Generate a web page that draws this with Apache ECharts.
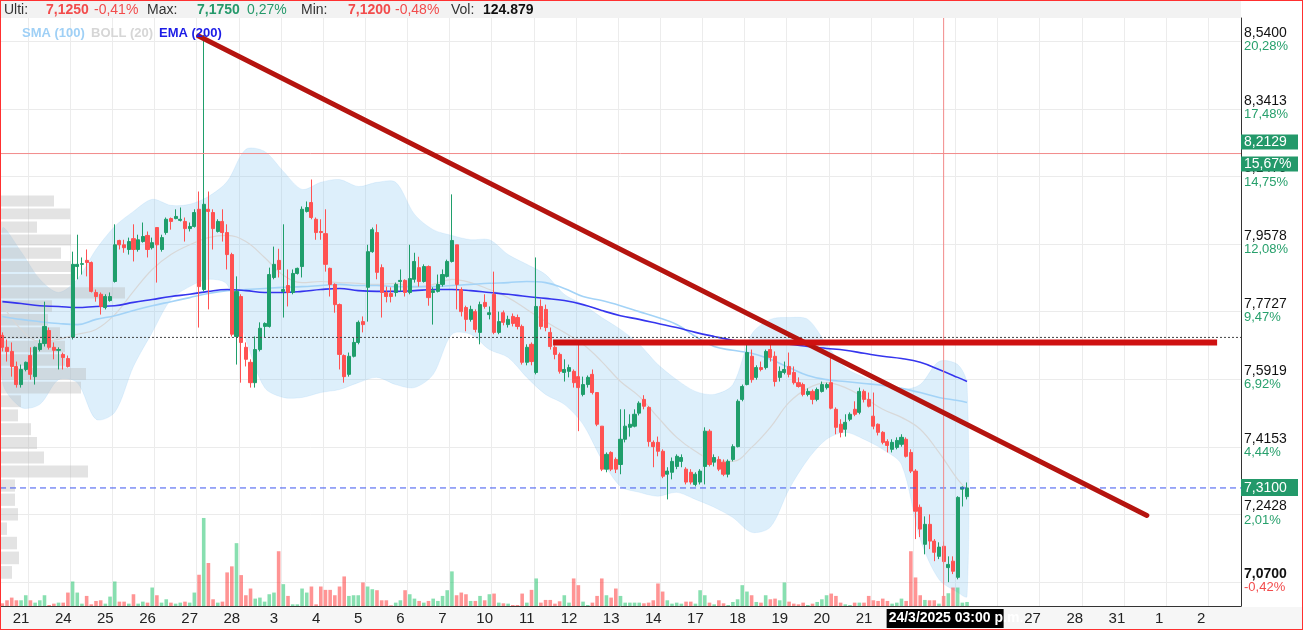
<!DOCTYPE html>
<html>
<head>
<meta charset="utf-8">
<script src="https://cdn.jsdelivr.net/npm/echarts@6/dist/echarts.min.js"></script>
<style>
html,body{margin:0;padding:0;background:#fff;}
#main{position:absolute;left:0;top:0;width:1303px;height:630px;}
#frame{position:absolute;left:0;top:0;width:1303px;height:630px;box-sizing:border-box;border:1px solid #ff3030;pointer-events:none;}
</style>
</head>
<body>
<div id="main"></div>
<div id="frame"></div>
<script>
// ---------------- DATA ----------------
// trading-day labels (one label per day, 9 hourly candles per day)
const dayLabels = ['21','24','25','26','27','28','3','4','5','6','7','10','11','12','13','14','17','18','19','20','21','24','25','26','27','28','31','1','2'];
const SLOT_COUNT = 265, CANDLES_PER_DAY = 9, FIRST_LABEL_SLOT = 4, FIRST_DAY_START = 6;

const opens = [7.709,7.677,7.666,7.626,7.578,7.618,7.655,7.599,7.671,7.687,7.722,7.677,7.669,7.658,7.647,7.704,7.896,7.902,7.913,7.907,7.825,7.820,7.784,7.803,7.855,7.968,7.956,7.943,7.973,7.943,7.965,7.982,7.948,8.004,7.943,7.990,8.029,8.029,8.024,8.021,8.001,8.007,8.055,7.833,8.055,8.046,7.993,8.021,7.990,7.929,7.706,7.814,7.677,7.637,7.583,7.671,7.733,7.733,7.866,7.913,7.828,7.844,7.825,7.877,7.896,8.049,8.074,8.027,7.993,7.987,7.891,7.847,7.792,7.655,7.605,7.653,7.690,7.746,7.839,7.937,7.990,7.893,7.825,7.822,7.825,7.855,7.858,7.825,7.861,7.893,7.855,7.896,7.825,7.828,7.847,7.869,7.910,7.956,7.833,7.784,7.752,7.773,7.717,7.798,7.765,7.820,7.717,7.770,7.738,7.760,7.757,7.733,7.637,7.685,7.610,7.787,7.779,7.717,7.677,7.658,7.610,7.613,7.613,7.599,7.552,7.578,7.605,7.557,7.469,7.358,7.401,7.383,7.370,7.435,7.466,7.469,7.503,7.539,7.518,7.427,7.427,7.404,7.345,7.350,7.365,7.378,7.358,7.350,7.319,7.325,7.365,7.456,7.376,7.383,7.376,7.345,7.383,7.416,7.539,7.578,7.653,7.597,7.623,7.623,7.671,7.653,7.597,7.610,7.626,7.610,7.583,7.578,7.552,7.560,7.539,7.560,7.570,7.583,7.513,7.474,7.461,7.487,7.513,7.505,7.560,7.539,7.495,7.474,7.453,7.429,7.409,7.414,7.422,7.435,7.401,7.353,7.261,7.168,7.218,7.176,7.138,7.163,7.110,7.126,7.086,7.307,7.288];
const highs = [7.717,7.698,7.690,7.639,7.631,7.639,7.677,7.679,7.698,7.800,7.730,7.690,7.677,7.663,7.655,7.937,7.984,7.921,7.943,7.910,7.833,7.825,7.820,7.825,8.013,7.970,7.970,7.976,8.013,7.984,8.018,7.993,7.976,8.004,7.984,8.032,8.032,8.055,8.060,8.032,8.018,8.055,8.105,8.559,8.105,8.055,8.027,8.055,8.013,7.934,7.869,7.820,7.690,7.645,7.706,7.744,7.744,7.893,7.951,7.945,8.013,7.888,7.888,7.893,8.063,8.077,8.139,8.032,8.027,8.055,7.893,7.850,7.795,7.658,7.663,7.704,7.749,7.760,7.956,8.004,8.013,7.902,7.841,7.839,7.852,7.888,7.861,7.956,7.934,7.923,7.902,7.899,7.839,7.874,7.888,7.915,8.097,7.956,7.839,7.789,7.789,7.779,7.800,7.820,7.787,7.882,7.773,7.776,7.762,7.768,7.765,7.738,7.685,7.690,7.921,7.806,7.792,7.730,7.682,7.663,7.645,7.631,7.618,7.685,7.599,7.602,7.618,7.557,7.469,7.401,7.404,7.388,7.513,7.513,7.500,7.513,7.534,7.550,7.521,7.432,7.442,7.409,7.363,7.388,7.396,7.396,7.363,7.358,7.350,7.358,7.466,7.461,7.396,7.391,7.383,7.383,7.422,7.539,7.578,7.685,7.671,7.629,7.639,7.671,7.690,7.666,7.626,7.639,7.663,7.626,7.597,7.583,7.568,7.565,7.570,7.586,7.583,7.650,7.518,7.487,7.500,7.505,7.534,7.570,7.565,7.557,7.557,7.476,7.456,7.435,7.435,7.440,7.448,7.440,7.409,7.358,7.268,7.238,7.243,7.181,7.173,7.175,7.138,7.138,7.289,7.314,7.324];
const lows = [7.666,7.639,7.599,7.570,7.570,7.613,7.591,7.578,7.666,7.679,7.671,7.645,7.618,7.618,7.623,7.698,7.861,7.874,7.869,7.825,7.800,7.765,7.779,7.800,7.852,7.943,7.934,7.929,7.910,7.937,7.962,7.921,7.943,7.852,7.937,7.984,7.998,8.027,8.021,7.965,7.993,8.004,7.730,7.828,7.779,7.943,7.990,7.965,7.888,7.706,7.631,7.583,7.626,7.570,7.570,7.666,7.704,7.730,7.861,7.866,7.757,7.787,7.820,7.874,7.866,8.046,8.027,7.970,7.970,7.882,7.814,7.770,7.618,7.583,7.599,7.650,7.685,7.717,7.746,7.934,7.861,7.757,7.798,7.798,7.814,7.828,7.814,7.820,7.852,7.841,7.852,7.789,7.738,7.825,7.841,7.866,7.907,7.779,7.760,7.720,7.746,7.717,7.685,7.781,7.752,7.712,7.712,7.736,7.730,7.733,7.725,7.631,7.629,7.629,7.605,7.725,7.720,7.671,7.645,7.607,7.586,7.597,7.570,7.456,7.547,7.570,7.552,7.469,7.353,7.350,7.353,7.348,7.345,7.427,7.442,7.466,7.497,7.513,7.416,7.363,7.391,7.335,7.281,7.332,7.358,7.363,7.319,7.319,7.314,7.319,7.319,7.365,7.365,7.353,7.340,7.337,7.378,7.414,7.534,7.576,7.583,7.591,7.613,7.618,7.639,7.573,7.586,7.605,7.597,7.578,7.570,7.547,7.547,7.526,7.534,7.557,7.565,7.513,7.448,7.440,7.442,7.482,7.495,7.500,7.531,7.518,7.461,7.445,7.422,7.401,7.401,7.409,7.416,7.388,7.348,7.181,7.186,7.143,7.156,7.126,7.131,7.120,7.074,7.094,7.081,7.263,7.281];
const closes = [7.677,7.666,7.626,7.578,7.618,7.637,7.605,7.677,7.687,7.733,7.677,7.669,7.671,7.650,7.626,7.902,7.902,7.904,7.907,7.828,7.814,7.787,7.814,7.814,7.956,7.956,7.948,7.965,7.943,7.970,7.979,7.943,7.962,7.956,7.976,8.027,8.021,8.035,8.027,8.001,8.007,8.046,7.841,8.069,8.049,8.001,8.021,7.990,7.929,7.712,7.828,7.690,7.645,7.583,7.671,7.728,7.741,7.874,7.902,7.888,7.833,7.825,7.877,7.891,8.055,8.060,8.032,7.990,7.990,7.902,7.847,7.792,7.658,7.599,7.653,7.690,7.744,7.738,7.937,7.998,7.880,7.825,7.814,7.814,7.847,7.858,7.825,7.863,7.910,7.855,7.896,7.811,7.830,7.847,7.874,7.910,7.968,7.847,7.773,7.752,7.779,7.725,7.792,7.787,7.770,7.717,7.746,7.744,7.752,7.741,7.733,7.637,7.677,7.639,7.787,7.733,7.730,7.679,7.658,7.613,7.618,7.623,7.583,7.570,7.578,7.597,7.557,7.474,7.358,7.396,7.358,7.358,7.435,7.469,7.474,7.500,7.529,7.521,7.429,7.416,7.404,7.340,7.353,7.378,7.391,7.388,7.325,7.325,7.345,7.353,7.456,7.370,7.388,7.358,7.345,7.378,7.416,7.534,7.573,7.663,7.591,7.623,7.618,7.666,7.650,7.586,7.613,7.618,7.605,7.583,7.573,7.552,7.560,7.539,7.565,7.578,7.578,7.516,7.466,7.453,7.479,7.500,7.500,7.560,7.539,7.521,7.469,7.453,7.427,7.419,7.427,7.432,7.440,7.391,7.353,7.251,7.206,7.218,7.176,7.148,7.161,7.125,7.118,7.101,7.286,7.312,7.310];
// relative traded volume per candle
const volumes = [8,17,25,17,17,32,17,10,17,32,3,7,10,10,40,73,40,7,30,5,15,17,7,28,73,13,13,7,35,7,13,10,55,32,10,20,10,7,10,13,10,40,93,262,128,20,10,13,100,118,187,92,32,52,22,25,13,35,40,163,65,30,5,5,52,40,58,5,58,48,48,32,58,88,30,32,32,70,58,50,47,17,17,2,10,17,47,35,22,15,10,15,22,15,30,47,103,32,40,35,15,15,30,17,35,37,10,8,7,3,3,37,10,48,82,10,18,18,7,14,32,10,82,62,13,3,10,30,82,32,25,52,30,10,10,10,10,8,10,17,67,43,17,7,10,7,13,13,7,47,32,10,5,17,8,3,12,20,62,43,32,12,10,32,20,22,17,70,13,7,5,10,3,7,12,20,32,37,30,10,5,3,10,10,10,30,17,15,22,15,7,10,22,15,163,85,32,18,17,17,7,30,38,55,55,10,12];

// indicator samples (candle slot -> price)
const indSlots = [0,4,8,12,16,20,24,28,32,36,40,44,48,52,56,60,64,68,72,76,80,84,88,92,96,100,104,108,112,116,120,124,128,132,136,140,144,148,152,156,160,164,168,172,176,180,184,188,192,196,200,204,206];
const bollUpper = [8.001,7.937,7.861,7.825,7.861,7.943,8.007,8.049,8.083,8.066,8.069,8.091,8.133,8.225,8.219,8.162,8.111,8.131,8.139,8.119,8.131,8.131,8.041,7.998,7.982,7.970,7.970,7.929,7.902,7.874,7.820,7.792,7.757,7.725,7.685,7.631,7.591,7.560,7.552,7.578,7.712,7.752,7.757,7.752,7.685,7.623,7.597,7.578,7.565,7.578,7.639,7.631,7.578];
const bollLower = [7.586,7.518,7.526,7.591,7.583,7.487,7.505,7.626,7.717,7.806,7.841,7.861,7.847,7.698,7.570,7.544,7.544,7.557,7.565,7.583,7.597,7.578,7.570,7.605,7.712,7.712,7.671,7.650,7.597,7.552,7.526,7.474,7.383,7.314,7.299,7.289,7.299,7.281,7.261,7.235,7.198,7.211,7.307,7.383,7.435,7.453,7.435,7.409,7.370,7.181,7.081,7.049,7.039];
const bollMid = [7.792,7.725,7.693,7.698,7.712,7.725,7.765,7.828,7.888,7.929,7.956,7.976,7.982,7.965,7.921,7.872,7.852,7.855,7.852,7.850,7.847,7.850,7.839,7.847,7.861,7.852,7.833,7.811,7.779,7.746,7.717,7.685,7.639,7.586,7.547,7.492,7.440,7.404,7.381,7.378,7.414,7.466,7.531,7.568,7.583,7.570,7.544,7.513,7.492,7.461,7.401,7.332,7.307];
const sma100 = [7.760,7.752,7.746,7.741,7.738,7.752,7.762,7.776,7.789,7.800,7.811,7.822,7.830,7.833,7.836,7.839,7.841,7.844,7.847,7.844,7.844,7.841,7.841,7.841,7.844,7.847,7.850,7.852,7.855,7.852,7.836,7.814,7.803,7.789,7.773,7.757,7.738,7.706,7.679,7.669,7.661,7.645,7.623,7.602,7.591,7.586,7.581,7.576,7.568,7.557,7.544,7.536,7.531];
const ema200 = [7.800,7.795,7.789,7.787,7.784,7.787,7.789,7.798,7.806,7.814,7.820,7.828,7.833,7.830,7.825,7.825,7.828,7.833,7.836,7.830,7.828,7.828,7.830,7.833,7.833,7.830,7.825,7.820,7.814,7.809,7.803,7.792,7.776,7.762,7.752,7.741,7.730,7.717,7.706,7.696,7.690,7.688,7.685,7.679,7.674,7.669,7.661,7.653,7.647,7.637,7.618,7.597,7.586];

// price axis ticks (log scale) and their % change labels
const tickPrices = ['8,5400','8,3413','8,1479','7,9578','7,7727','7,5919','7,4153','7,2428','7,0700'];
const tickPct = ['20,28%','17,48%','14,75%','12,08%','9,47%','6,92%','4,44%','2,01%','-0,42%'];
const tickTop = 8.54, tickSeventh = 7.2428;
const axisPriceMin = 7.0156, axisPriceMax = 8.6099;
const volumeAxisMax = 1750;

// volume-at-price profile (bucket low price, relative volume)
const profileLow = [7.080,7.116,7.153,7.189,7.225,7.262,7.298,7.334,7.370,7.407,7.443,7.479,7.516,7.552,7.588,7.625,7.661,7.697,7.733,7.770,7.806,7.842,7.878,7.915,7.951,7.987,8.024,8.060];
const profileVol = [12,19,17,7,18,15,15,88,44,37,31,18,21,81,86,65,65,60,48,52,125,72,71,61,71,37,70,54];
const profileStep = 0.0363, profileAxisMax = 1241;

// user drawn lines: [slot, price]
const trendDown = [[41.9, 8.556], [244.4, 7.2404]];
const resistance = [[117.6, 7.690], [259.4, 7.690]];
// guides
const alertPrice = 8.2129, alertPct = '15,67%';
const lastPrice = 7.31;
const crossPrice = 7.7035, crossSlot = 201, crossLabel = '24/3/2025 03:00 p.m.';
// header (values of the candle under the crosshair)
const headerItems = [
  ['Ulti:', 4, 'label'], ['7,1250', 46, 'downB'], ['-0,41%', 94, 'down'],
  ['Max:', 147, 'label'], ['7,1750', 197, 'upB'], ['0,27%', 247, 'up'],
  ['Min:', 301, 'label'], ['7,1200', 348, 'downB'], ['-0,48%', 395, 'down'],
  ['Vol:', 451, 'label'], ['124.879', 483, 'volB']
];
const legendItems = [['SMA (100)', 22, '#9fd0f6'], ['BOLL (20)', 91, '#d6d6d6'], ['EMA (200)', 159, '#1c1ce6']];

// ---------------- BUILD ----------------
const STEP = Math.log(tickTop / tickSeventh) / 7;
const T = p => Math.log(p / tickTop) / STEP;   // log-price index (0 = 8.54, -1 per gridline)

const UP = '#1f9e6b', DOWN = '#ff5252';
const FONT = "'Liberation Sans', Arial, sans-serif";

const categories = [];
for (let s = 0; s < SLOT_COUNT; s++) {
  const k = (s - FIRST_LABEL_SLOT) / CANDLES_PER_DAY;
  categories.push(Number.isInteger(k) && k >= 0 && k < dayLabels.length ? dayLabels[k] : '');
}
const candleData = opens.map((o, i) => [T(o), T(closes[i]), T(lows[i]), T(highs[i])]);
const volData = volumes.map((v, i) => ({
  value: v,
  itemStyle: { color: closes[i] >= opens[i] ? 'rgba(38,196,112,0.55)' : 'rgba(255,60,60,0.55)' }
}));
const pts = arr => indSlots.map((s, i) => [s, T(arr[i])]);
const profileData = profileLow.map((lo, i) => [profileVol[i], T(lo), T(lo + profileStep)]);
const hLine = p => [[-0.5, T(p)], [SLOT_COUNT - 0.5, T(p)]];

const chart = echarts.init(document.getElementById('main'), null, { width: 1303, height: 630 });

const guide = (name, data, color, type) => ({
  name: name, type: 'line', xAxisIndex: 1, yAxisIndex: 0, data: data, symbol: 'none', silent: true, z: 5,
  lineStyle: { color: color, width: 1, type: type }
});

const option = {
  animation: false,
  backgroundColor: '#ffffff',
  grid: { left: 0, right: 62, top: 18, bottom: 24, containLabel: false, outerBoundsMode: 'none' },
  xAxis: [
    {
      type: 'category', data: categories, boundaryGap: true,
      axisLine: { onZero: false, lineStyle: { color: '#333', width: 1 } },
      axisTick: { show: false },
      axisLabel: {
        interval: (i, v) => v !== '', color: '#222', fontSize: 15, margin: 5,
        fontFamily: "'Liberation Sans Narrow', 'Arial Narrow', 'Liberation Sans', Arial, sans-serif"
      },
      splitLine: {
        show: true,
        interval: (i) => i >= FIRST_DAY_START && (i - FIRST_DAY_START) % CANDLES_PER_DAY === 0,
        lineStyle: { color: '#ececec', width: 1 }
      }
    },
    { type: 'value', min: -0.5, max: SLOT_COUNT - 0.5, show: false, axisLine: { onZero: false } },
    { type: 'value', min: 0, max: profileAxisMax, show: false, axisLine: { onZero: false } }
  ],
  yAxis: [
    {
      type: 'value', position: 'right', min: T(axisPriceMin), max: T(axisPriceMax),
      splitNumber: 9,
      axisLine: { show: true, onZero: false, lineStyle: { color: '#333', width: 1 } },
      axisTick: { show: false, customValues: tickPrices.map((_, k) => -k) },
      axisLabel: {
        customValues: tickPrices.map((_, k) => -k),
        margin: 3, align: 'left', padding: [0, 0, 4, 0],
        formatter: v => {
          const k = Math.round(-v);
          if (Math.abs(v + k) > 1e-6 || k < 0 || k >= tickPrices.length) return '';
          const last = k === tickPrices.length - 1;
          return '{' + (last ? 'pb' : 'p') + '|' + tickPrices[k] + '}\n{' + (last ? 'qr' : 'q') + '|' + tickPct[k] + '}';
        },
        rich: {
          p: { fontSize: 14, color: '#111', lineHeight: 15, fontFamily: FONT },
          pb: { fontSize: 14, color: '#111', lineHeight: 15, fontWeight: 'bold', fontFamily: FONT },
          q: { fontSize: 13, color: '#27a06c', lineHeight: 12, fontFamily: FONT },
          qr: { fontSize: 13, color: '#f24c4c', lineHeight: 12, fontFamily: FONT }
        }
      },
      splitLine: { show: true, lineStyle: { color: '#ebebeb', width: 1 } }
    },
    { type: 'value', min: 0, max: volumeAxisMax, show: false, axisLine: { onZero: false } }
  ],
  series: [
    { name: 'BOLL (20) band', type: 'custom', xAxisIndex: 1, yAxisIndex: 0, data: [[100, -4]], z: 1, silent: true, clip: true,
      renderItem: (params, api) => {
        const up = indSlots.map((s, i) => api.coord([s, T(bollUpper[i])]));
        const lo = indSlots.map((s, i) => api.coord([s, T(bollLower[i])])).reverse();
        return { type: 'polygon', shape: { points: up.concat(lo), smooth: 0.3 },
                 style: { fill: 'rgba(120,190,240,0.25)', stroke: 'rgba(120,190,240,0.15)', lineWidth: 1 } };
      } },
    { name: 'profile', type: 'custom', xAxisIndex: 2, yAxisIndex: 0, data: profileData, z: 2, silent: true,
      renderItem: (params, api) => {
        const a = api.coord([0, api.value(2)]);
        const b = api.coord([api.value(0), api.value(1)]);
        return { type: 'rect', shape: { x: a[0], y: a[1] + 1, width: b[0] - a[0], height: b[1] - a[1] - 2 },
                 style: { fill: 'rgba(185,185,185,0.4)' } };
      } },
    { name: 'volume', type: 'bar', xAxisIndex: 0, yAxisIndex: 1, data: volData, barWidth: 3.6, z: 2, silent: true },
    { name: 'bollMid', type: 'line', xAxisIndex: 1, yAxisIndex: 0, data: pts(bollMid), symbol: 'none', smooth: 0.4,
      lineStyle: { color: '#d8d8d8', width: 1.2 }, z: 3, silent: true },
    { name: 'SMA (100)', type: 'line', xAxisIndex: 1, yAxisIndex: 0, data: pts(sma100), symbol: 'none', smooth: 0.4,
      lineStyle: { color: '#a3d3f7', width: 1.6 }, z: 3, silent: true },
    { name: 'EMA (200)', type: 'line', xAxisIndex: 1, yAxisIndex: 0, data: pts(ema200), symbol: 'none', smooth: 0.4,
      lineStyle: { color: '#3535ee', width: 1.6 }, z: 3, silent: true },
    { name: 'price', type: 'candlestick', xAxisIndex: 0, yAxisIndex: 0, data: candleData, barWidth: 3.6, z: 4, silent: true,
      itemStyle: { color: UP, color0: DOWN, borderColor: UP, borderColor0: DOWN, borderWidth: 1 } },
    guide('alert', hLine(alertPrice), '#f28a8a', 'solid'),
    guide('last', hLine(lastPrice), '#3d55f0', [6, 4]),
    guide('crossH', hLine(crossPrice), '#444444', [2, 2]),
    guide('crossV', [[crossSlot, T(axisPriceMin)], [crossSlot, T(axisPriceMax)]], '#f28a8a', 'solid'),
    { name: 'trendDown', type: 'line', xAxisIndex: 1, yAxisIndex: 0, data: trendDown.map(d => [d[0], T(d[1])]),
      symbol: 'none', lineStyle: { color: '#b5140f', width: 5, cap: 'round' }, z: 6, silent: true },
    { name: 'resistance', type: 'line', xAxisIndex: 1, yAxisIndex: 0, data: resistance.map(d => [d[0], T(d[1])]),
      symbol: 'none', lineStyle: { color: '#cf1111', width: 6, cap: 'butt' }, z: 6, silent: true }
  ]
};
chart.setOption(option);

// --------- overlays positioned through the chart's own scales ---------
const axisX = chart.convertToPixel({ xAxisIndex: 1 }, SLOT_COUNT - 0.5);
const yAlert = chart.convertToPixel({ yAxisIndex: 0 }, T(alertPrice));
const yLast = chart.convertToPixel({ yAxisIndex: 0 }, T(lastPrice));
const xCross = chart.convertToPixel({ xAxisIndex: 1 }, crossSlot);
const gridBottom = chart.convertToPixel({ yAxisIndex: 0 }, T(axisPriceMin));

const STY = {
  label: ['#333', 'normal'], down: ['#f24c4c', 'normal'], downB: ['#f24c4c', 'bold'],
  up: ['#25996b', 'normal'], upB: ['#25996b', 'bold'], volB: ['#111', 'bold']
};
const txt = (text, x, y, fill, weight, size, extra) => Object.assign({
  type: 'text', x: x, y: y, z: 50,
  style: { text: text, fill: fill, font: (weight || 'normal') + ' ' + (size || 14) + 'px ' + FONT, verticalAlign: 'middle', align: 'left' }
}, extra || {});

const elements = [
  { type: 'rect', z: -10, shape: { x: 0, y: 0, width: axisX, height: 18 }, style: { fill: '#f2f2f2' } },
  { type: 'rect', z: -10, shape: { x: 0, y: gridBottom + 1, width: 1303, height: 630 - gridBottom - 1 }, style: { fill: '#f6f6f6' } }
];
headerItems.forEach(h => elements.push(txt(h[0], h[1], 10, STY[h[2]][0], STY[h[2]][1], 14)));
legendItems.forEach(l => elements.push(txt(l[0], l[1], 33, l[2], 'bold', 13)));

// alert badge (two boxes around the line)
elements.push({ type: 'rect', z: 60, shape: { x: axisX, y: yAlert - 19, width: 57, height: 15 }, style: { fill: '#23996a' } });
elements.push({ type: 'rect', z: 60, shape: { x: axisX, y: yAlert + 3, width: 57, height: 15 }, style: { fill: '#23996a' } });
elements.push(txt(alertPrice.toFixed(4).replace('.', ','), axisX + 3, yAlert - 11, '#fff', 'normal', 14, { z: 61 }));
elements.push(txt(alertPct, axisX + 3, yAlert + 11, '#fff', 'normal', 14, { z: 61 }));
// last price badge
elements.push({ type: 'rect', z: 60, shape: { x: axisX, y: yLast - 9, width: 57, height: 17 }, style: { fill: '#23996a' } });
elements.push(txt(lastPrice.toFixed(4).replace('.', ','), axisX + 3, yLast, '#fff', 'normal', 14, { z: 61 }));
// crosshair date badge
elements.push({ type: 'rect', z: 60, shape: { x: xCross - 57, y: gridBottom + 3, width: 117, height: 19 }, style: { fill: '#000' } });
elements.push(txt(crossLabel, xCross - 55, gridBottom + 12.5, '#fff', 'bold', 14, { z: 61 }));

chart.setOption({ graphic: { elements: elements } });
</script>
</body>
</html>
